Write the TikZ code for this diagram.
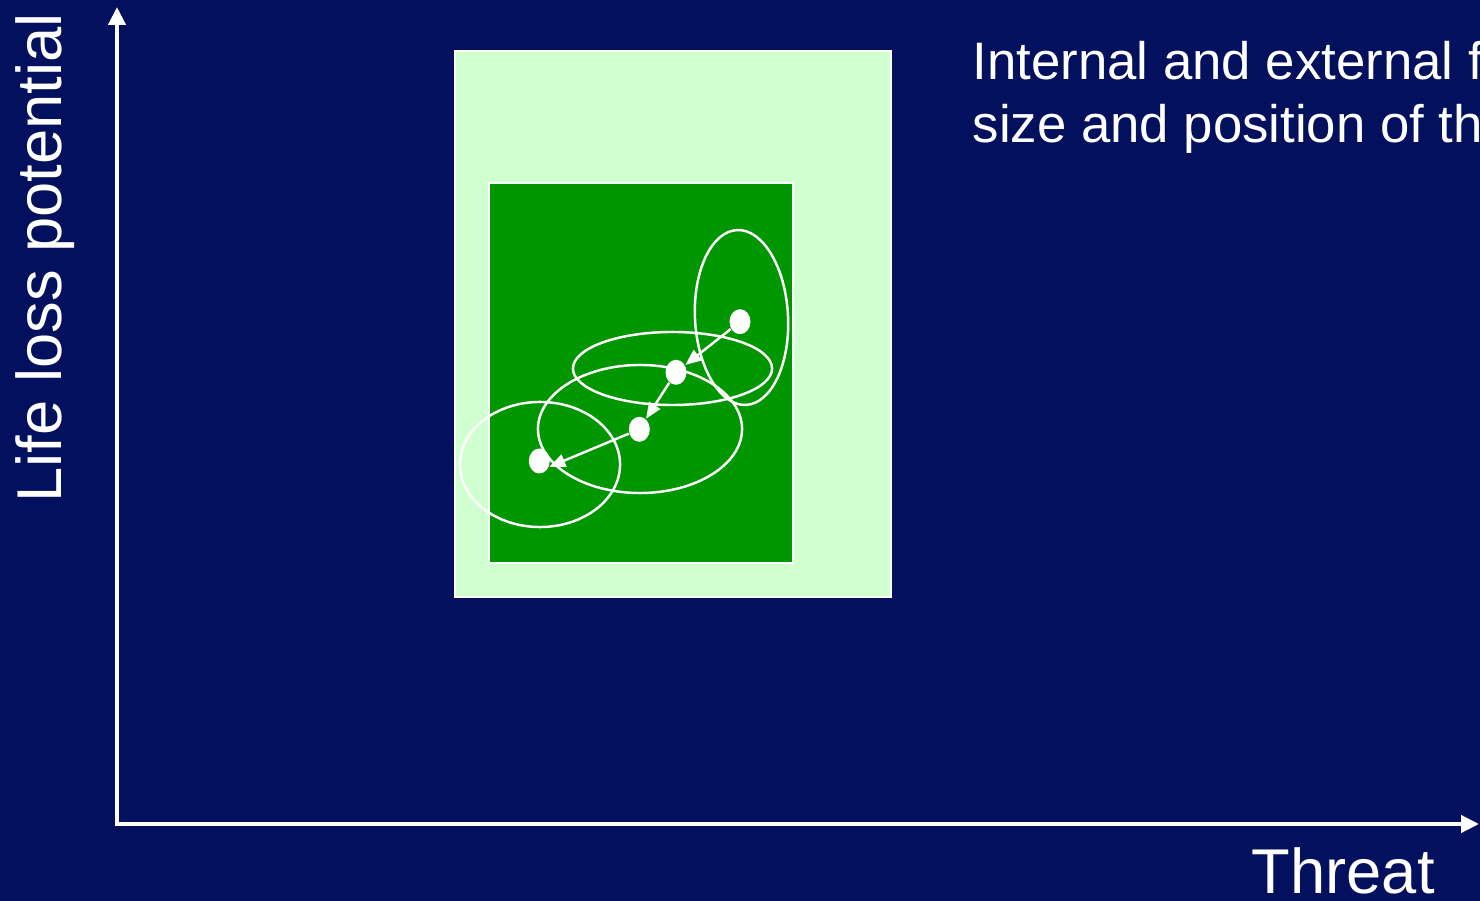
\documentclass[tikz,border=0pt]{standalone}
\usepackage{fontspec}
\setmainfont{Liberation Sans}
\usetikzlibrary{shapes.geometric,arrows.meta}
\definecolor{bgnavy}{RGB}{2,16,94}
\definecolor{zonelight}{RGB}{208,255,208}
\definecolor{zonedark}{RGB}{0,150,0}
\begin{document}
\begin{tikzpicture}[x=0.01cm,y=-0.01cm,
  axis/.style={white,line width=1.2pt,-{Triangle[length=0.18cm,width=0.17cm]}},
  zone/.style={draw=white,line width=0.6pt},
  spread/.style={ellipse,draw=white,line width=0.7pt,inner sep=0pt},
  state/.style={ellipse,fill=white,inner sep=0pt,minimum width=0.21cm,minimum height=0.25cm},
  movearrow/.style={white,line width=0.7pt,-{Triangle[length=0.16cm,width=0.13cm]}},
  lbl/.style={text=white,inner sep=0pt}]
\useasboundingbox (0,0) rectangle (1480,901);
\clip (0,0) rectangle (1480,901);
\fill[bgnavy] (0,0) rectangle (1480,901);

% axes
\coordinate (origin) at (117,824);
\coordinate (ytip) at (117,7);
\coordinate (xtip) at (1479,824);
\draw[axis] (origin) -- (ytip);
\draw[axis] ([xshift=-0.02cm]origin) -- (xtip);

% tolerance zones
\draw[zone,fill=zonelight] (455,51) rectangle (891,597);
\draw[zone,fill=zonedark] (489,183) rectangle (793,563);

% uncertainty ellipses
\node[spread,minimum width=0.93cm,minimum height=1.75cm,rotate=3] (e1) at (741.5,317.5) {};
\node[spread,minimum width=1.99cm,minimum height=0.73cm] (e2) at (672.5,368.5) {};
\node[spread,minimum width=2.04cm,minimum height=1.28cm] (e3) at (640,429) {};
\node[spread,minimum width=1.60cm,minimum height=1.25cm] (e4) at (540,464.5) {};

% states
\node[state] (s1) at (740,321.7) {};
\node[state] (s2) at (676,372.3) {};
\node[state] (s3) at (639.3,429.3) {};
\node[state] (s4) at (539.3,461) {};
\draw[movearrow] (s1) -- (s2);
\draw[movearrow] (s2) -- (s3);
\draw[movearrow] (s3) -- (s4.-30);

% labels
\node[lbl,anchor=base west,rotate=90,font=\fontsize{18}{21}\selectfont] (ylab) at (61,503) {Life loss potential};
\node[lbl,anchor=base west,font=\fontsize{18}{21}\selectfont] (xlab) at (1251,893) {Threat};
\node[lbl,anchor=base west,font=\fontsize{15}{18}\selectfont] (noteA) at (972,79.3) {Internal and external f};
\node[lbl,anchor=base west,font=\fontsize{15}{18}\selectfont] (noteB) at (972,142.7) {size and position of th};
\end{tikzpicture}
\end{document}
